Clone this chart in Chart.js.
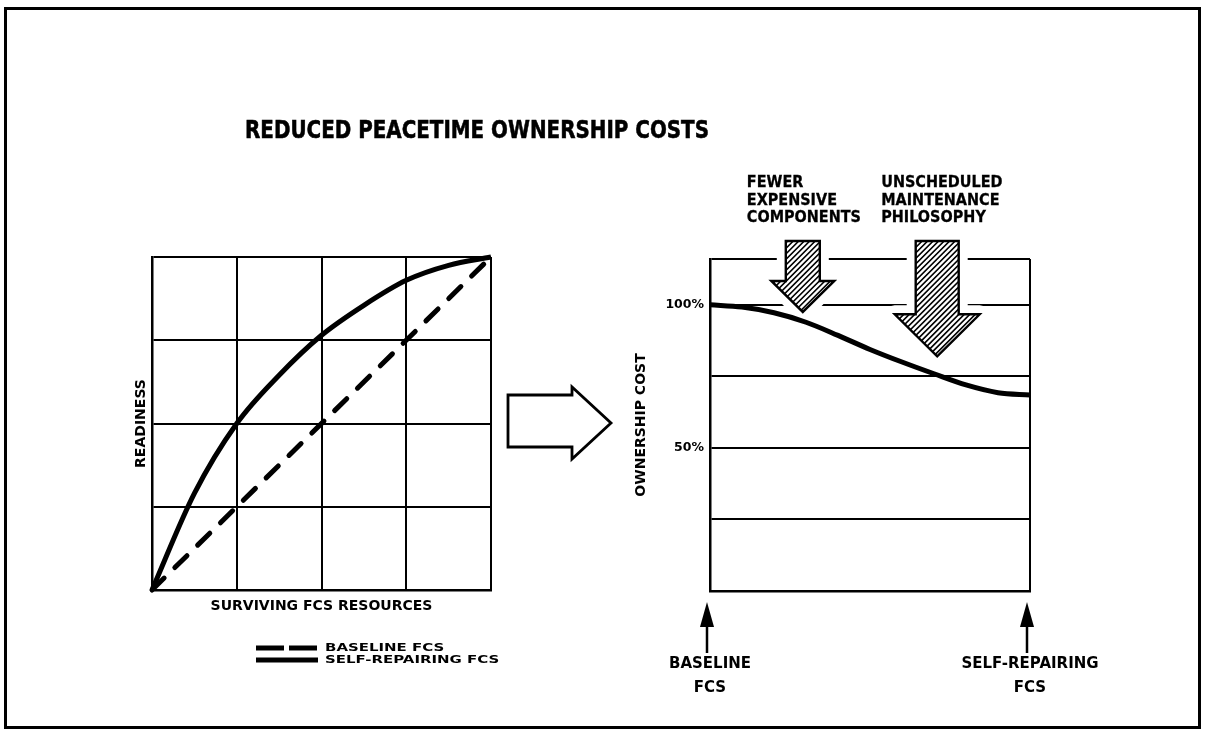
<!DOCTYPE html>
<html>
<head>
<meta charset="utf-8">
<title>Reduced Peacetime Ownership Costs</title>
<script src="https://cdn.jsdelivr.net/npm/chart.js@4.4.1/dist/chart.umd.min.js"></script>
<style>
  body { margin: 0; background: #fff; }
  #sheet { position: relative; width: 1205px; height: 733px; background: #fff; }
  #sheet canvas { position: absolute; left: 0; top: 0; }
  #frame { position: absolute; left: 4px; top: 7px; width: 1197px; height: 722px; box-sizing: border-box; border: 3px solid #000; }
</style>
</head>
<body>
<div id="sheet">
  <div id="frame"></div>
  <canvas id="readiness" width="1205" height="733"></canvas>
  <canvas id="cost" width="1205" height="733"></canvas>
</div>
<script>
// readiness against surviving FCS resources (both 0..1)
let resources = [0, 0.125, 0.25, 0.375, 0.5, 0.625, 0.75, 0.875, 1];
let selfRepairing = [0, 0.29, 0.5, 0.645, 0.765, 0.855, 0.93, 0.975, 1];
let baselineX = [0, 1];
let baseline = [0, 1];
let quarterSteps = [0, 0.25, 0.5, 0.75, 1];

// ownership cost (%) going from baseline FCS to self-repairing FCS
let stage = [0, 0.1, 0.2, 0.3, 0.4, 0.5, 0.6, 0.7, 0.8, 0.9, 1];
let ownershipCost = [100, 99.2, 97.2, 93.9, 89.3, 84.4, 80, 75.9, 72, 69.3, 68.5];
let costGrid = [0, 25, 50, 75, 100, 116];
let costLabelled = [50, 100];
let stageEnds = [0, 1];
let stageNames = [["BASELINE", "FCS"], ["SELF-REPAIRING", "FCS"]];

// what pushes the cost down
let causeText = [["FEWER", "EXPENSIVE", "COMPONENTS"], ["UNSCHEDULED", "MAINTENANCE", "PHILOSOPHY"]];
let causeAt = [0.29, 0.71];
let causeTip = [97.5, 82];

const FAMILY = "'DejaVu Sans', 'Liberation Sans', sans-serif";
const BOLD = (size) => ({ family: FAMILY, weight: "bold", size: size });
Chart.defaults.color = "#000";

// text squeezed or widened sideways, with a thin outline to make it heavier
function stretchText(ctx, text, x, y, stretch, align, heft) {
  ctx.save();
  ctx.translate(x, y);
  ctx.scale(stretch, 1);
  ctx.textAlign = align || "left";
  ctx.fillText(text, 0, 0);
  if (heft) {
    ctx.lineWidth = heft;
    ctx.strokeStyle = ctx.fillStyle;
    ctx.strokeText(text, 0, 0);
  }
  ctx.restore();
}

function hatchedArrow(ctx, cx, top, tip, size) {
  let shaft = size.shaft / 2, head = size.head / 2, neck = tip - size.len;
  let outline = () => {
    ctx.beginPath();
    ctx.moveTo(cx - shaft, top);
    ctx.lineTo(cx + shaft, top);
    ctx.lineTo(cx + shaft, neck);
    ctx.lineTo(cx + head, neck);
    ctx.lineTo(cx, tip);
    ctx.lineTo(cx - head, neck);
    ctx.lineTo(cx - shaft, neck);
    ctx.closePath();
  };
  ctx.save();
  // white margin breaks the grid lines round the arrow
  outline();
  ctx.fillStyle = "#fff";
  ctx.strokeStyle = "#fff";
  ctx.lineJoin = "round";
  ctx.lineWidth = 18;
  ctx.stroke();
  ctx.fill();

  ctx.save();
  outline();
  ctx.clip();
  ctx.strokeStyle = "#000";
  ctx.lineWidth = 1.6;
  ctx.beginPath();
  let h = tip - top;
  for (let x = cx - head - h; x < cx + head + 6; x += 5.5) {
    ctx.moveTo(x, tip);
    ctx.lineTo(x + h, top);
  }
  ctx.stroke();
  ctx.restore();

  outline();
  ctx.strokeStyle = "#000";
  ctx.lineWidth = 2.4;
  ctx.lineJoin = "miter";
  ctx.stroke();
  ctx.restore();
}

function upArrow(ctx, x, tip) {
  ctx.save();
  ctx.fillStyle = "#000";
  ctx.strokeStyle = "#000";
  ctx.lineWidth = 2.5;
  ctx.beginPath();
  ctx.moveTo(x, tip + 20);
  ctx.lineTo(x, tip + 51);
  ctx.stroke();
  ctx.beginPath();
  ctx.moveTo(x, tip);
  ctx.lineTo(x + 7, tip + 25);
  ctx.lineTo(x - 7, tip + 25);
  ctx.closePath();
  ctx.fill();
  ctx.restore();
}

let legendRows = {
  id: "legendRows",
  afterDraw(chart) {
    let ctx = chart.ctx;
    let area = chart.chartArea;
    ctx.save();
    ctx.font = "bold 11px " + FAMILY;
    ctx.fillStyle = "#000";
    ctx.textBaseline = "middle";
    chart.data.datasets.forEach((ds, i) => {
      let y = area.bottom + 58 + i * 12;
      ctx.strokeStyle = "#000";
      ctx.lineWidth = 5;
      ctx.setLineDash(ds.borderDash ? [28, 5] : []);
      ctx.beginPath();
      ctx.moveTo(area.left + 104, y);
      ctx.lineTo(area.left + 166, y);
      ctx.stroke();
      ctx.setLineDash([]);
      stretchText(ctx, ds.label, area.left + 173, y, 1.36, "left");
    });
    ctx.restore();
  }
};

let costNotes = {
  id: "costNotes",
  beforeDatasetsDraw(chart) {
    let ctx = chart.ctx;
    let xs = chart.scales.x, ys = chart.scales.y;
    let sizes = [{ shaft: 34, head: 63, len: 31 }, { shaft: 43, head: 85, len: 42 }];
    causeAt.forEach((v, i) => {
      hatchedArrow(ctx, xs.getPixelForValue(v), chart.chartArea.top - 18, ys.getPixelForValue(causeTip[i]), sizes[i]);
    });
  },
  afterDraw(chart) {
    let ctx = chart.ctx;
    let area = chart.chartArea;
    let xs = chart.scales.x;
    ctx.save();
    ctx.fillStyle = "#000";
    ctx.textBaseline = "middle";

    // heading
    let heading = "REDUCED PEACETIME OWNERSHIP COSTS";
    ctx.font = "bold 25px " + FAMILY;
    stretchText(ctx, heading, 477, 131, 464 / ctx.measureText(heading).width, "center", 0.6);

    // cause labels above the hatched arrows
    ctx.font = "bold 15.5px " + FAMILY;
    causeText.forEach((lines, i) => {
      let left = xs.getPixelForValue(causeAt[i]) - 56;
      lines.forEach((line, j) => stretchText(ctx, line, left, 183 + j * 17.7, 0.93, "left", 0.3));
    });

    // hollow arrow leading from the left panel to this one
    ctx.beginPath();
    ctx.moveTo(508, 395);
    ctx.lineTo(572, 395);
    ctx.lineTo(572, 387);
    ctx.lineTo(611, 423);
    ctx.lineTo(572, 459);
    ctx.lineTo(572, 447);
    ctx.lineTo(508, 447);
    ctx.closePath();
    ctx.fillStyle = "#fff";
    ctx.fill();
    ctx.strokeStyle = "#000";
    ctx.lineWidth = 2.8;
    ctx.stroke();

    // pointers from the stage names up to the axis
    stageEnds.forEach((v) => upArrow(ctx, xs.getPixelForValue(v) - 3, area.bottom + 11));
    ctx.restore();
  }
};

new Chart(document.getElementById("readiness"), {
  type: "line",
  data: {
    datasets: [
      {
        label: "BASELINE FCS",
        data: baselineX.map((x, i) => ({ x: x, y: baseline[i] })),
        borderColor: "#000",
        borderWidth: 5,
        borderDash: [17, 15],
        borderCapStyle: "round",
        pointRadius: 0,
        fill: false,
        clip: 6
      },
      {
        label: "SELF-REPAIRING FCS",
        data: resources.map((x, i) => ({ x: x, y: selfRepairing[i] })),
        borderColor: "#000",
        borderWidth: 5,
        cubicInterpolationMode: "monotone",
        pointRadius: 0,
        fill: false,
        clip: 6
      }
    ]
  },
  options: {
    responsive: false,
    animation: false,
    devicePixelRatio: 1,
    events: [],
    layout: { padding: { left: 120, right: 714, top: 257, bottom: 0 } },
    plugins: { legend: { display: false }, tooltip: { enabled: false } },
    scales: {
      x: {
        type: "linear",
        min: 0,
        max: 1,
        afterBuildTicks: (s) => { s.ticks = quarterSteps.map((v) => ({ value: v })); },
        afterFit: (s) => { s.height = 143; s.paddingLeft = 0; s.paddingRight = 0; },
        ticks: { display: false },
        grid: { color: "#000", lineWidth: 2, drawTicks: false },
        border: { color: "#000", width: 2.5 },
        title: { display: true, text: "SURVIVING FCS RESOURCES", font: BOLD(14), color: "#000", padding: { top: 0, bottom: 118 } }
      },
      y: {
        type: "linear",
        min: 0,
        max: 1,
        afterBuildTicks: (s) => { s.ticks = quarterSteps.map((v) => ({ value: v })); },
        afterFit: (s) => { s.width = 32; s.paddingTop = 0; s.paddingBottom = 0; },
        ticks: { display: false },
        grid: { color: "#000", lineWidth: 2, drawTicks: false },
        border: { color: "#000", width: 2.5 },
        title: { display: true, text: "READINESS", font: BOLD(14), color: "#000", padding: { top: 13, bottom: 0 } }
      }
    }
  },
  plugins: [legendRows]
});

new Chart(document.getElementById("cost"), {
  type: "line",
  data: {
    datasets: [
      {
        label: "OWNERSHIP COST",
        data: stage.map((x, i) => ({ x: x, y: ownershipCost[i] })),
        borderColor: "#000",
        borderWidth: 5,
        cubicInterpolationMode: "monotone",
        pointRadius: 0,
        fill: false,
        clip: 6
      }
    ]
  },
  options: {
    responsive: false,
    animation: false,
    devicePixelRatio: 1,
    events: [],
    layout: { padding: { left: 600, right: 175, top: 259, bottom: 0 } },
    plugins: { legend: { display: false }, tooltip: { enabled: false } },
    scales: {
      x: {
        type: "linear",
        min: 0,
        max: 1,
        afterBuildTicks: (s) => { s.ticks = stageEnds.map((v) => ({ value: v })); },
        afterFit: (s) => { s.height = 142; s.paddingLeft = 0; s.paddingRight = 0; },
        ticks: {
          autoSkip: false,
          maxRotation: 0,
          minRotation: 0,
          padding: 61,
          font: { family: FAMILY, weight: "bold", size: 15, lineHeight: 1.6 },
          color: "#000",
          callback: (v, i) => stageNames[i]
        },
        grid: { color: "#000", lineWidth: 2, drawTicks: false },
        border: { color: "#000", width: 2.5 }
      },
      y: {
        type: "linear",
        min: 0,
        max: costGrid[costGrid.length - 1],
        afterBuildTicks: (s) => { s.ticks = costGrid.map((v) => ({ value: v })); },
        afterFit: (s) => { s.width = 110; s.paddingTop = 0; s.paddingBottom = 0; },
        ticks: {
          autoSkip: false,
          padding: 6,
          font: BOLD(12.5),
          color: "#000",
          callback: (v) => (costLabelled.includes(v) ? v + "%" : "")
        },
        grid: { color: "#000", lineWidth: 2, drawTicks: false },
        border: { color: "#000", width: 2.5 },
        title: { display: true, text: "OWNERSHIP COST", font: BOLD(14), color: "#000", padding: { top: 33, bottom: 0 } }
      }
    }
  },
  plugins: [costNotes]
});
</script>
</body>
</html>
